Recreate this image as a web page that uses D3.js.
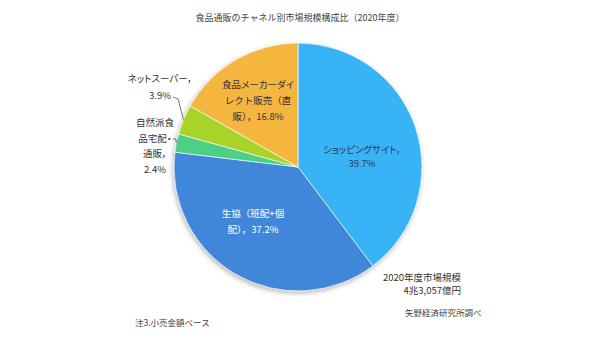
<!DOCTYPE html>
<html><head><meta charset="utf-8">
<script src="https://cdn.jsdelivr.net/npm/d3@7"></script>
<style>
html,body{margin:0;padding:0;background:#fff;}
text{font-family:"Noto Sans CJK JP","Noto Sans",sans-serif;}
.palt{font-feature-settings:"palt";}
</style></head>
<body><div id="chart"></div>
<script>
const categories = ["ショッピングサイト", "生協（班配+個配）", "自然派食品宅配・通販", "ネットスーパー", "食品メーカーダイレクト販売（直販）"];
const shares = [39.7, 37.2, 2.4, 3.9, 16.8];
const labelLines = [
  ["ショッピングサイト，", "39.7%"],
  ["生協（班配+個", "配），37.2%"],
  ["自然派食", "品宅配・", "通販，", "2.4%"],
  ["ネットスーパー，", "3.9%"],
  ["食品メーカーダイ", "レクト販売（直", "販），16.8%"]
];
const title = "食品通販のチャネル別市場規模構成比（2020年度）";
const totalLines = ["2020年度市場規模", "4兆3,057億円"];
const noteText = "注3.小売金額ベース";
const sourceText = "矢野経済研究所調べ";

const colors = ["#38b3f6", "#3f87d9", "#4dcf86", "#a8d42c", "#f5b640"];
const labelColors = ["#2a3a55", "#ffffff", "#333333", "#333333", "#333333"];
// label layout: [x center, first line center y, line spacing]
const labelPos = [[362,150,14],[253,214,16],[155,123,15.5],[160,79,17],[258,85,16]];

const W = 600, H = 350, cx = 298, cy = 167, R = 124;
const svg = d3.select("#chart").append("svg").attr("width", W).attr("height", H);
const defs = svg.append("defs");
const f = defs.append("filter").attr("id","sh").attr("x","-20%").attr("y","-20%").attr("width","140%").attr("height","140%");
f.append("feGaussianBlur").attr("in","SourceAlpha").attr("stdDeviation",2.5);
f.append("feOffset").attr("dx",-1).attr("dy",2).attr("result","b");
f.append("feComponentTransfer").append("feFuncA").attr("type","linear").attr("slope",0.3);
const m = f.append("feMerge"); m.append("feMergeNode"); m.append("feMergeNode").attr("in","SourceGraphic");

svg.append("text").attr("x", 300).attr("y", 21).attr("text-anchor","middle")
  .attr("font-size", 9).attr("fill","#444").text(title);

const pie = d3.pie().sort(null).value(d => d)(shares);
const arc = d3.arc().innerRadius(0).outerRadius(R);
const g = svg.append("g").attr("transform", `translate(${cx},${cy})`);
g.append("g").attr("filter","url(#sh)").selectAll("path").data(pie).join("path")
  .attr("d", arc).attr("fill", (d,i) => colors[i])
  .attr("stroke","#ffffff").attr("stroke-width",0.8).attr("stroke-opacity",0.8);

// labels
labelLines.forEach((lines, i) => {
  const [x, y0, dy] = labelPos[i];
  const t = svg.append("text").attr("text-anchor","middle").attr("font-size",9.5)
    .attr("fill", labelColors[i]);
  lines.forEach((s, k) => {
    t.append("tspan").attr("x", x).attr("y", y0 + k*dy).attr("dy","0.35em")
      .attr("class", /[（）]/.test(s) ? null : "palt").text(s);
  });
});

// leader lines
function edgePoint(d, r) {
  const a = (d.startAngle + d.endAngle) / 2;
  return [cx + r*Math.sin(a), cy - r*Math.cos(a)];
}
const ns = edgePoint(pie[3], R);
svg.append("path").attr("d", d3.line()([[173,97],[178,99],ns]))
  .attr("fill","none").attr("stroke","#555").attr("stroke-width",0.8);
const sz = edgePoint(pie[2], R);
svg.append("path").attr("d", d3.line()([[173,139],[176,139],sz]))
  .attr("fill","none").attr("stroke","#555").attr("stroke-width",0.8);

// total
const tt = svg.append("text").attr("text-anchor","end").attr("font-size",9.5).attr("fill","#333");
totalLines.forEach((s,k) => tt.append("tspan").attr("x",461).attr("y",278 + k*13).attr("dy","0.35em").text(s));

svg.append("text").attr("x",135).attr("y",323).attr("dy","0.35em").attr("font-size",8.5).attr("fill","#444").text(noteText);
svg.append("text").attr("x",405).attr("y",313).attr("dy","0.35em").attr("font-size",8.5).attr("fill","#444").text(sourceText);
</script></body></html>
